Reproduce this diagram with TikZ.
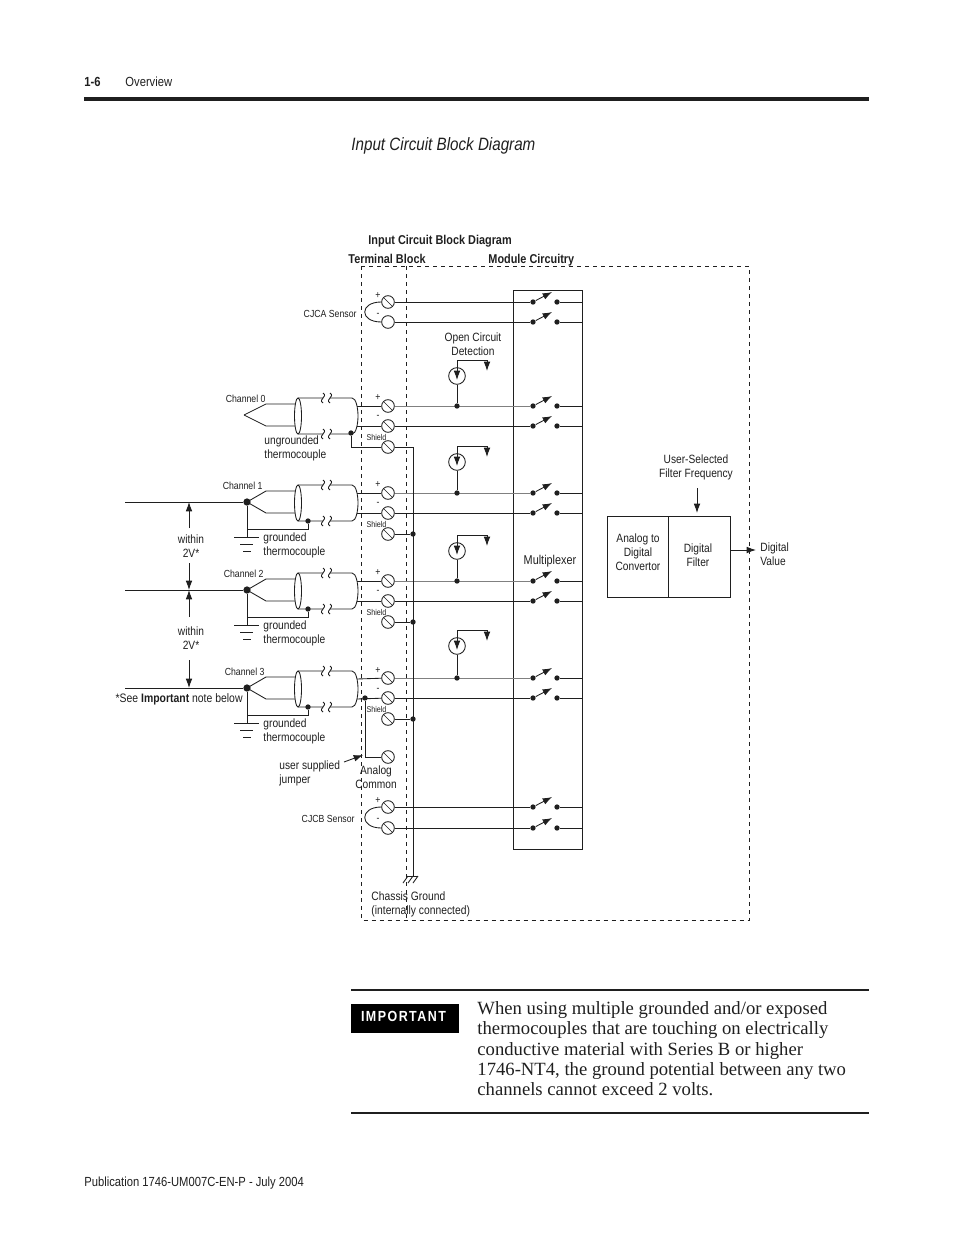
\documentclass[tikz,border=0pt]{standalone}
\usepackage{fontspec}
\setmainfont{Liberation Serif}
\newfontfamily\labelfont[FakeStretch=0.85]{Liberation Sans}
\usetikzlibrary{arrows.meta}
\definecolor{ink}{gray}{0.12}
\definecolor{pale}{gray}{0.5}

\begin{document}
\begin{tikzpicture}[
   x=.75pt, y=-.75pt, color=ink,
   every node/.style={text=ink, inner sep=0},
   every path/.style={line width=.65pt},
   lab/.style={font=\labelfont\fontsize{9}{10.5}\selectfont, align=center},
   chan/.style={font=\labelfont\fontsize{7.7}{9.5}\selectfont},
   tiny lab/.style={font=\labelfont\fontsize{6.3}{7}\selectfont},
   head/.style={font=\labelfont\bfseries\fontsize{9.6}{11}\selectfont},
   page lab/.style={font=\labelfont\fontsize{9.9}{12}\selectfont},
   screw/.style={circle, draw, minimum size=9.5pt,
      path picture={\draw[line width=.5pt] (path picture bounding box.north west) -- (path picture bounding box.south east);}},
   plain screw/.style={circle, draw, minimum size=9.5pt},
   dot/.style={circle, fill=ink, minimum size=4pt},
   big dot/.style={circle, fill=ink, minimum size=5.5pt},
   source/.style={circle, draw, minimum size=12.5pt},
   tip/.style={-{Latex[length=7pt,width=5pt]}},
   dashline/.style={dash pattern=on 3pt off 3pt, line width=.7pt},
   squig/.pic={
      \fill[white, draw=none] (-3.5,-4) rectangle (3.5,4);
      \draw (-3.5,5) .. controls (-9,1) and (2,-1) .. (-3.5,-5);
      \draw (3.5,5) .. controls (-2,1) and (9,-1) .. (3.5,-5);
   }]

\useasboundingbox (0,0) rectangle (954,1235);

% page furniture
\node[page lab, font=\labelfont\bfseries\fontsize{9.9}{12}\selectfont, anchor=base west] (pagenum) at (84,86) {1-6};
\node[page lab, anchor=base west] (section) at (125,86) {Overview};
\fill[ink] (84,96.5) rectangle (869,100.5);
\node[font=\labelfont\itshape\fontsize{13.4}{16}\selectfont, anchor=west] (title) at (351,145.5) {Input Circuit Block Diagram};

% headings
\node[head, anchor=base west] (heading) at (368,244) {Input Circuit Block Diagram};
\node[head, anchor=base west] (termhead) at (348,263) {Terminal Block};
\node[head, anchor=base west] (modhead) at (488,263) {Module Circuitry};

% dashed module outline
\draw[dashline] (361.5,266) -- (361.5,920) -- (749,920) -- (749,266) -- cycle;
\draw[dashline] (406,266) -- (406,920);

% multiplexer
\node[draw, minimum width=51.75pt, minimum height=419.25pt] (mux) at (547.5,569.5) {};
\node[lab, font=\labelfont\fontsize{9.6}{11}\selectfont] (muxlab) at (550,561) {Multiplexer};

% terminals and switches
\foreach \n/\y in {ap/302,0p/406,0m/426,1p/493,1m/513,2p/581,2m/601,3p/678,3m/698,bp/807,bm/828} {
   \node[screw] (t\n) at (388,\y) {};
}
\node[plain screw] (tam) at (388,322) {};
\foreach \n/\y/\col in {ap/302/ink,am/322/ink,0p/406/pale,0m/426/ink,1p/493/pale,1m/513/ink,2p/581/pale,2m/601/ink,3p/678/pale,3m/698/ink,bp/807/ink,bm/828/ink} {
   \node[dot] (l\n) at (533,\y) {};
   \node[dot] (r\n) at (557,\y) {};
   \draw[\col] (t\n) -- (l\n);
   \draw (r\n) -- (r\n -| mux.east);
   \draw[tip] (l\n) -- (552,\y-10);
}
\foreach \n/\y in {0s/447,1s/534,2s/622,3s/719} {
   \node[screw] (t\n) at (388,\y) {};
}
\node[screw] (tcom) at (388,757) {};

% polarity marks
\foreach \n/\y in {a/296,0/398,1/485,2/573,3/671,b/801} {
   \node[chan] (plus\n) at (378,\y) {+};
   \node[chan] (minus\n) at (378,\y+19) {-};
}
\foreach \c/\y in {0/437,1/524,2/612,3/709} {
   \node[tiny lab] (shield\c) at (376.5,\y) {Shield};
}

% cold junction sensors
\draw (tap.west) .. controls +(-22,0) and +(-22,0) .. (tam.west);
\draw (tbp.west) .. controls +(-22,0) and +(-22,0) .. (tbm.west);
\node[chan, anchor=east] (cjca) at (357,313.5) {CJCA Sensor};
\node[chan, anchor=east] (cjcb) at (355,818.5) {CJCB Sensor};

% thermocouple cables
\foreach \c/\yt/\xt in {0/398/244,1/485/247,2/573/247,3/671/247} {
   \coordinate (tc\c) at (\xt,\yt+17);
   \draw (tc\c) -- (266,\yt+6) -- (295,\yt+6);
   \draw (tc\c) -- (266,\yt+28) -- (295,\yt+28);
   \draw (298,\yt+18) ellipse [x radius=3.5, y radius=18];
   \draw (298,\yt) -- (352,\yt) .. controls (356,\yt) and (358,\yt+10) .. (358,\yt+18)
         .. controls (358,\yt+26) and (356,\yt+36) .. (352,\yt+36) -- (298,\yt+36);
   \pic at (326.5,\yt) {squig};
   \pic at (326.5,\yt+36) {squig};
   \coordinate (cabp\c) at (357,\yt+8);
   \coordinate (cabm\c) at (357,\yt+28);
   \draw (cabp\c) -- (t\c p);
   \draw (cabm\c) -- (t\c m);
}
\node[dot] (shdot0) at (351,433) {};
\draw (shdot0) |- (t0s);
\node[chan, anchor=east] (chlab0) at (266,398.5) {Channel 0};
\node[lab, anchor=west, align=left] (tclab0) at (264,448.5) {ungrounded\\thermocouple};

% grounded channels
\foreach \c/\yt/\xl/\xc/\yl in {1/485/263/263/545.5,2/573/263/264/633.5,3/671/263/265/731.5} {
   \node[big dot] (tcd\c) at (tc\c) {};
   \node[dot] (shdot\c) at (308,\yt+36) {};
   \coordinate (gnd\c) at (247,\yt+52);
   \draw (tcd\c) -- (gnd\c);
   \draw (shdot\c) -- (308,\yt+44) -- (247,\yt+44);
   \draw (234,\yt+52) -- (259,\yt+52);
   \draw (240,\yt+59) -- (253,\yt+59);
   \draw (243,\yt+66) -- (251,\yt+66);
   \node[chan, anchor=east] (chlab\c) at (\xc,\yt+.5) {Channel \c};
   \node[lab, anchor=west, align=left] (tclab\c) at (\xl,\yl) {grounded\\thermocouple};
   \coordinate (feed\c) at (125,\yt+17);
   \draw (feed\c) -- (tcd\c);
}

% potential between channels
\node[lab] (within1) at (191,546) {within\\2V*};
\node[lab] (within2) at (191,638) {within\\2V*};
\coordinate (gap1a) at (189,528);
\coordinate (gap1b) at (189,563);
\coordinate (gap2a) at (189,617);
\coordinate (gap2b) at (189,660);
\draw[tip] (gap1a) -- (189,502);
\draw[tip] (gap1b) -- (189,590);
\draw[tip] (gap2a) -- (189,590);
\draw[tip] (gap2b) -- (189,688);
\node[lab, font=\labelfont\fontsize{9.2}{11}\selectfont, anchor=east] (seenote) at (243,699.5) {*See \textbf{Important} note below};

% chassis bus
\draw (t0s) -- (413,447) -- (413,876);
\foreach \c in {1,2,3} {
   \node[dot] (busdot\c) at (413,0 |- t\c s) {};
   \draw (t\c s) -- (busdot\c);
}
\draw (406,876) -- (418,876);
\draw (408,876) -- (403,883);
\draw (413,876) -- (408,883);
\draw (418,876) -- (413,883);
\node[anchor=west, align=left, font=\labelfont\fontsize{9.1}{11}\selectfont] (chassis) at (371,904.5) {Chassis Ground\\(internally connected)};

% jumper to analog common
\node[dot] (jumpdot) at (365,698) {};
\draw (jumpdot) |- (tcom);
\node[lab] (comlab) at (376,777) {Analog\\Common};
\node[lab, anchor=west, align=left] (jumplab) at (279,773) {user supplied\\jumper};
\draw[tip] (344,762) -- (363,755);

% open circuit detection
\node[lab] (ocd) at (473,344) {Open Circuit\\Detection};
\foreach \c/\ys in {0/376,1/462,2/551,3/646} {
   \node[source] (src\c) at (457,\ys) {};
   \node[dot] (srcdot\c) at (src\c |- t\c p) {};
   \draw (src\c) -- (srcdot\c);
   \draw[tip] (src\c.north) -- (457,\ys+4);
   \draw[tip] (src\c.north) -- (457,\ys-16) -- (487,\ys-16) -- (487,\ys-5);
}

% converter and filter
\node[draw, minimum width=45.75pt, minimum height=60.75pt] (adc) at (637.5,556.5) {};
\node[draw, minimum width=46.5pt, minimum height=60.75pt, anchor=west] (filt) at (adc.east) {};
\node[lab] (adclab) at (638,552) {Analog to\\Digital\\Convertor};
\node[lab] (filtlab) at (698,555) {Digital\\Filter};
\node[lab] (freq) at (696,467) {User-Selected\\Filter Frequency};
\coordinate (freqstart) at (697,488);
\coordinate (freqtip) at (697,513);
\draw[tip] (freqstart) -- (freqtip);
\node[lab, anchor=west, align=left] (value) at (760,554) {Digital\\Value};
\coordinate (valuetip) at (756,550);
\draw[tip] (filt.east |- valuetip) -- (valuetip);

% note
\fill[ink] (351,989) rectangle (869,991);
\node[fill=black, text=white, minimum width=81pt, minimum height=22pt] (notehead) at (405,1018.5) {};
\node[text=white, font=\labelfont\bfseries\fontsize{11}{12}\selectfont] (notelab) at (403.5,1016) {\addfontfeature{LetterSpace=10}IMPORTANT};
\node[anchor=north west, align=left, font=\fontsize{14}{15.25}\selectfont] (notetext) at (477,1001) {When using multiple grounded and/or exposed\\thermocouples that are touching on electrically\\conductive material with Series B or higher\\1746-NT4, the ground potential between any two\\channels cannot exceed 2 volts.};
\fill[ink] (351,1112) rectangle (869,1114);

\node[page lab, anchor=base west] (footer) at (84,1186.5) {Publication 1746-UM007C-EN-P - July 2004};

\end{tikzpicture}
\end{document}
